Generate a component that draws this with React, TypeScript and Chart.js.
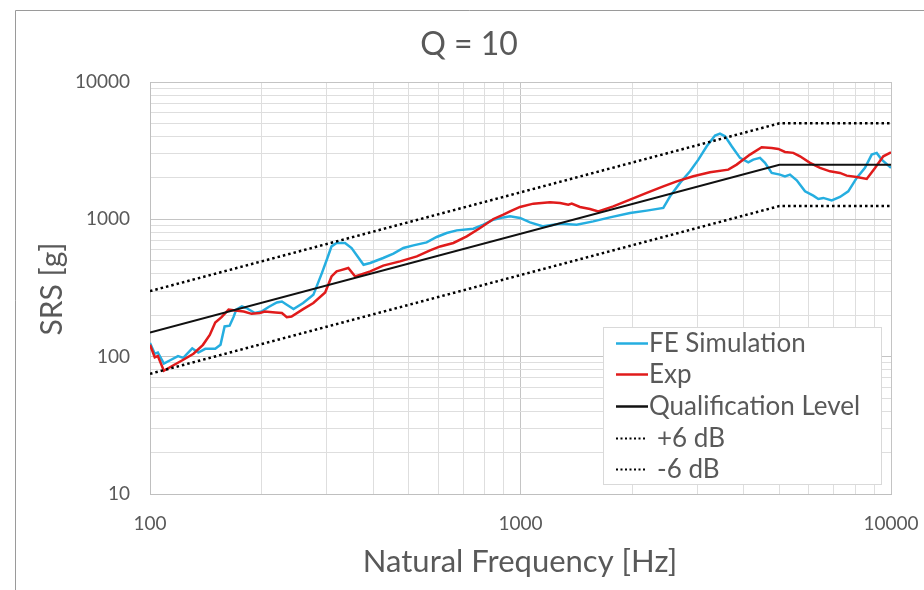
import React, { useEffect, useRef } from "react";
import { Chart, registerables } from "chart.js";
Chart.register(...registerables);

const TITLE = "Q = 10";
const X_TITLE = "Natural Frequency [Hz]";
const Y_TITLE = "SRS [g]";

const feFreq = [100, 103, 105, 109, 114, 119, 123, 130, 135, 141, 150, 155, 159, 164, 168, 171, 177, 182, 192, 200, 209, 220, 227, 234, 244, 259, 276, 291, 300, 309, 319, 336, 350, 377, 393, 426, 454, 483, 514, 558, 594, 632, 673, 746, 794, 845, 899, 937, 997, 1061, 1152, 1279, 1418, 1572, 1744, 1975, 2191, 2429, 2533, 2695, 2868, 3020, 3182, 3350, 3455, 3565, 3716, 3912, 4119, 4249, 4430, 4570, 4764, 5015, 5174, 5337, 5566, 5861, 6170, 6365, 6566, 6918, 7282, 7667, 8080, 8507, 8870, 9150, 9438, 10000];
const feVals = [126, 105, 107, 89, 95, 101, 98, 115, 107, 114, 114, 122, 166, 168, 194, 220, 232, 226, 208, 213, 230, 248, 252, 239, 222, 246, 282, 406, 508, 635, 673, 673, 618, 467, 481, 523, 562, 618, 646, 679, 744, 795, 831, 855, 914, 994, 1033, 1051, 1023, 950, 889, 930, 914, 966, 1033, 1113, 1157, 1210, 1471, 1842, 2237, 2722, 3403, 4072, 4211, 4025, 3403, 2801, 2602, 2722, 2801, 2576, 2178, 2117, 2057, 2117, 1923, 1599, 1488, 1408, 1432, 1375, 1455, 1599, 2002, 2368, 2961, 3047, 2722, 2368];

const expFreq = [100, 103, 105, 109, 116, 123, 131, 139, 145, 150, 156, 163, 170, 179, 188, 198, 204, 218, 227, 234, 241, 259, 276, 297, 309, 319, 326, 343, 358, 393, 426, 473, 525, 570, 607, 659, 716, 778, 845, 899, 937, 997, 1083, 1201, 1279, 1346, 1375, 1447, 1540, 1622, 1780, 1975, 2191, 2429, 2641, 2927, 3247, 3638, 3832, 4163, 4477, 4764, 4965, 5174, 5448, 5681, 6045, 6433, 6845, 7282, 7593, 8080, 8600, 9054, 9533, 10000];
const expVals = [122, 99, 101, 79, 87, 95, 105, 122, 144, 177, 194, 220, 217, 213, 205, 208, 213, 210, 208, 194, 196, 222, 246, 293, 384, 418, 425, 442, 384, 418, 460, 494, 537, 594, 635, 673, 751, 865, 1006, 1081, 1143, 1231, 1301, 1330, 1316, 1279, 1301, 1231, 1190, 1143, 1243, 1391, 1557, 1739, 1891, 2057, 2200, 2301, 2503, 2961, 3346, 3312, 3257, 3097, 3047, 2877, 2576, 2368, 2237, 2178, 2081, 2036, 1969, 2368, 2877, 3078];

const qualFreq = [100, 5000, 10000];
const qualVals = [150, 2500, 2500];
const plus6Vals = [300, 5000, 5000];
const minus6Vals = [75, 1250, 1250];

const xTicks = [100, 200, 300, 400, 500, 600, 700, 800, 900, 1000, 2000, 3000, 4000, 5000, 6000, 7000, 8000, 9000, 10000];
const yTicks = [10, 20, 30, 40, 50, 60, 70, 80, 90, 100, 200, 300, 400, 500, 600, 700, 800, 900, 1000, 2000, 3000, 4000, 5000, 6000, 7000, 8000, 9000, 10000];
const decades = [10, 100, 1000, 10000];

const seriesNames = ["FE Simulation", "Exp", "Qualification Level", "+6 dB", "-6 dB"];

const FONT = "Lato, 'Open Sans', sans-serif";
const TEXT = "#595959";

const toPts = (xs: number[], ys: number[]) => xs.map((x, i) => ({ x, y: ys[i] }));

const decorPlugin = {
  id: "decor",
  beforeDraw(chart: any) {
    const ctx = chart.ctx;
    ctx.save();
    ctx.fillStyle = "#ffffff";
    ctx.fillRect(0, 0, chart.width, chart.height);
    ctx.strokeStyle = "#9a9a9a";
    ctx.lineWidth = 1;
    ctx.beginPath();
    ctx.moveTo(15.5, chart.height);
    ctx.lineTo(15.5, 10.5);
    ctx.lineTo(chart.width, 10.5);
    ctx.stroke();
    ctx.restore();
  },
  afterDraw(chart: any) {
    const ctx = chart.ctx;
    ctx.save();
    ctx.fillStyle = TEXT;
    ctx.textAlign = "center";
    ctx.textBaseline = "middle";
    ctx.font = `32px ${FONT}`;
    ctx.fillText(TITLE, 469, 45);
    ctx.font = `31px ${FONT}`;
    ctx.fillText(X_TITLE, 520, 562);
    ctx.save();
    ctx.translate(52, 289);
    ctx.rotate(-Math.PI / 2);
    ctx.font = `30px ${FONT}`;
    ctx.fillText(Y_TITLE, 0, 0);
    ctx.restore();

    // legend
    const lx = 603.5, ly = 327.5, lw = 278, lh = 157;
    ctx.fillStyle = "#ffffff";
    ctx.fillRect(lx, ly, lw, lh);
    ctx.strokeStyle = "#d9d9d9";
    ctx.lineWidth = 1;
    ctx.strokeRect(lx, ly, lw, lh);
    const rows = [343, 374, 406, 438, 469];
    ctx.font = `26px ${FONT}`;
    ctx.textAlign = "left";
    chart.data.datasets.forEach((ds: any, i: number) => {
      const y = rows[i];
      const dashed = ds.borderDash && ds.borderDash.length;
      ctx.save();
      ctx.strokeStyle = ds.borderColor;
      ctx.lineWidth = dashed ? 2 : 2.5;
      ctx.setLineDash(dashed ? [2, 2.5] : []);
      ctx.beginPath();
      ctx.moveTo(616, y + 0.5);
      ctx.lineTo(dashed ? 646 : 648, y + 0.5);
      ctx.stroke();
      ctx.restore();
      ctx.fillStyle = TEXT;
      ctx.fillText(ds.label, dashed ? 657 : 649, y + 1);
    });
    ctx.restore();
  },
};

export default function App() {
  const ref = useRef<HTMLCanvasElement>(null);
  useEffect(() => {
    if (!ref.current) return;
    const gridColor = (c: any) =>
      c.tick && decades.includes(c.tick.value) ? "#c4c4c4" : "#dedede";
    const chart = new Chart(ref.current, {
      type: "line",
      data: {
        datasets: [
          { label: seriesNames[0], data: toPts(feFreq, feVals), borderColor: "#25aee0", borderWidth: 2.5, pointRadius: 0, order: 5 },
          { label: seriesNames[1], data: toPts(expFreq, expVals), borderColor: "#e01b1b", borderWidth: 2.5, pointRadius: 0, order: 4 },
          { label: seriesNames[2], data: toPts(qualFreq, qualVals), borderColor: "#111111", borderWidth: 2, pointRadius: 0, order: 3 },
          { label: seriesNames[3], data: toPts(qualFreq, plus6Vals), borderColor: "#000000", borderWidth: 2.5, borderDash: [2.5, 3], pointRadius: 0, order: 2 },
          { label: seriesNames[4], data: toPts(qualFreq, minus6Vals), borderColor: "#000000", borderWidth: 2.5, borderDash: [2.5, 3], pointRadius: 0, order: 1 },
        ],
      },
      options: {
        animation: false,
        responsive: false,
        devicePixelRatio: 1,
        layout: { padding: { top: 82, right: 33, left: 0, bottom: 0 } },
        plugins: { legend: { display: false }, tooltip: { enabled: false }, title: { display: false } },
        scales: {
          x: {
            type: "logarithmic",
            min: 100,
            max: 10000,
            afterFit: (s: any) => { s.height = 96; s.paddingLeft = 0; s.paddingRight = 0; },
            afterBuildTicks: (s: any) => { s.ticks = xTicks.map((v) => ({ value: v })); },
            grid: { color: gridColor, drawTicks: false, lineWidth: 1 },
            border: { display: true, color: "#bfbfbf" },
            ticks: {
              autoSkip: false,
              maxRotation: 0,
              padding: 18,
              color: TEXT,
              font: { family: FONT, size: 19 },
              callback: (v: any) => (decades.includes(Number(v)) ? String(v) : ""),
            },
          },
          y: {
            type: "logarithmic",
            min: 10,
            max: 10000,
            afterFit: (s: any) => { s.width = 150; s.paddingTop = 0; s.paddingBottom = 0; },
            afterBuildTicks: (s: any) => { s.ticks = yTicks.map((v) => ({ value: v })); },
            grid: { color: gridColor, drawTicks: false, lineWidth: 1 },
            border: { display: true, color: "#bfbfbf" },
            ticks: {
              autoSkip: false,
              padding: 20,
              color: TEXT,
              font: { family: FONT, size: 19 },
              callback: (v: any) => (decades.includes(Number(v)) ? String(v) : ""),
            },
          },
        },
      },
      plugins: [decorPlugin],
    } as any);
    return () => chart.destroy();
  }, []);
  return (
    <canvas
      ref={ref}
      width={924}
      height={590}
      style={{ position: "fixed", left: 0, top: 0, width: 924, height: 590, display: "block" }}
    />
  );
}
